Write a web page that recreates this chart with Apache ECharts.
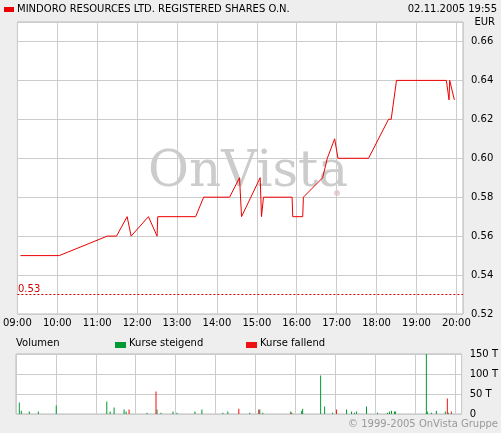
<!DOCTYPE html>
<html>
<head>
<meta charset="utf-8">
<script src="https://cdn.jsdelivr.net/npm/echarts@6/dist/echarts.min.js"></script>
<style>html,body{margin:0;padding:0;background:#eeeeee}#chart{width:501px;height:433px}</style>
</head>
<body>
<div id="chart"></div>
<script>
// minutes after 09:00
var priceTimes = [4.5, 63, 135, 149, 165, 171, 197, 210, 211, 268, 280, 319, 334, 337, 351, 365, 367, 370, 413, 414, 429, 430, 459, 466, 477, 482, 528, 558, 562, 570, 645, 649, 650, 657];
var priceValues = [0.55, 0.55, 0.56, 0.56, 0.57, 0.56, 0.57, 0.56, 0.57, 0.57, 0.58, 0.58, 0.59, 0.57, 0.58, 0.59, 0.57, 0.58, 0.58, 0.57, 0.57, 0.58, 0.59, 0.60, 0.61, 0.60, 0.60, 0.62, 0.62, 0.64, 0.64, 0.63, 0.64, 0.63];
var upTimes = [5, 8, 20, 33.5, 60.5, 136.5, 141.5, 147.5, 162.5, 165.5, 197, 212, 218, 236, 242, 269, 279.5, 311, 318.5, 351.5, 366.5, 371, 413, 429.5, 431, 458, 464, 476, 497, 504.5, 509, 512, 527, 543.5, 558.5, 561.5, 564.5, 569, 570.5, 617, 618.5, 624.5, 632, 645.5, 650];
var upVolumes = [29, 8, 6, 6, 21, 31, 6, 16, 11, 6, 3, 11, 3, 6, 3, 6, 11, 3, 6, 3, 11, 3, 6, 8, 13, 96, 19, 3, 11, 6, 3, 6, 19, 3, 3, 6, 8, 6, 6, 150, 6, 3, 8, 6, 3];
var downTimes = [170, 210.5, 335, 365, 414.5, 482, 648.5, 654.5];
var downVolumes = [11, 56, 13, 11, 3, 11, 39, 6];
var prevClose = 0.53;
var title = "MINDORO RESOURCES LTD. REGISTERED SHARES O.N.";

function zip(a, b) { return a.map(function (v, i) { return [v, b[i]]; }); }
function timeLabel(v) { var h = 9 + Math.round(v / 60); return (h < 10 ? "0" : "") + h + ":00"; }

var font = "DejaVu Sans";
var chart = echarts.init(document.getElementById("chart"));
chart.setOption({
    backgroundColor: "#eeeeee",
    animation: false,
    textStyle: { fontFamily: font },
    grid: [
        { left: 16, right: 38, top: 22, height: 292, backgroundColor: "#fff", show: true, borderColor: "#bbb", borderWidth: 1 },
        { left: 16, right: 38, top: 354, height: 60, backgroundColor: "#fff", show: true, borderColor: "#bbb", borderWidth: 1 }
    ],
    xAxis: [
        { type: "value", gridIndex: 0, min: 0, max: 670, interval: 60,
          axisLine: { show: false }, axisTick: { show: false },
          axisLabel: { formatter: timeLabel, color: "#000", fontSize: 10, margin: 4, showMaxLabel: false },
          splitLine: { lineStyle: { color: "#ccc" } } },
        { type: "value", gridIndex: 1, min: 0, max: 670, interval: 60,
          axisLine: { show: false }, axisTick: { show: false }, axisLabel: { show: false },
          splitLine: { lineStyle: { color: "#ccc" } } }
    ],
    yAxis: [
        { type: "value", gridIndex: 0, position: "right", min: 0.52, max: 0.67, interval: 0.02,
          axisLine: { show: false }, axisTick: { show: false },
          axisLabel: { formatter: function (v) { return v.toFixed(2); }, color: "#000", fontSize: 10, margin: 8, showMaxLabel: false },
          splitLine: { lineStyle: { color: "#ccc" } } },
        { type: "value", gridIndex: 1, position: "right", min: 0, max: 150, interval: 50,
          axisLine: { show: false }, axisTick: { show: false },
          axisLabel: { formatter: function (v) { return v ? v + " T" : "0"; }, color: "#000", fontSize: 10, margin: 8 },
          splitLine: { lineStyle: { color: "#ccc" } } }
    ],
    series: [
        { type: "line", xAxisIndex: 0, yAxisIndex: 0, data: zip(priceTimes, priceValues), symbol: "none",
          lineStyle: { color: "#e00", width: 1 },
          markLine: { silent: true, symbol: "none",
            lineStyle: { color: "#c00", type: [2, 2], width: 1 },
            label: { show: false },
            data: [{ yAxis: prevClose }] } },
        { type: "bar", xAxisIndex: 1, yAxisIndex: 1, data: zip(upTimes, upVolumes), barWidth: 1, itemStyle: { color: "#009933" } },
        { type: "bar", xAxisIndex: 1, yAxisIndex: 1, data: zip(downTimes, downVolumes), barWidth: 1, barGap: "-100%", itemStyle: { color: "#ee1111" } }
    ],
    graphic: [
        { type: "text", left: 148, top: 148, z: 0, style: { text: "OnVista", font: "50px 'DejaVu Serif'", fill: "#cccccc" } },
        { type: "circle", shape: { cx: 337, cy: 193, r: 3 }, style: { fill: "#ebcfcf" } },
        { type: "rect", shape: { x: 4, y: 7, width: 10, height: 5 }, style: { fill: "#e00" } },
        { type: "text", left: 17, top: 4, style: { text: title, font: "10px " + font, fill: "#000" } },
        { type: "text", right: 4, top: 4, style: { text: "02.11.2005 19:55", font: "10px " + font, fill: "#000", align: "right" } },
        { type: "text", right: 6, top: 17, style: { text: "EUR", font: "10px " + font, fill: "#000", align: "right" } },
        { type: "text", left: 18, top: 284, style: { text: "0.53", font: "10px " + font, fill: "#c00" } },
        { type: "text", left: 16, top: 338, style: { text: "Volumen", font: "10px " + font, fill: "#000" } },
        { type: "rect", shape: { x: 115, y: 342, width: 11, height: 6 }, style: { fill: "#009933" } },
        { type: "text", left: 129, top: 338, style: { text: "Kurse steigend", font: "10px " + font, fill: "#000" } },
        { type: "rect", shape: { x: 246, y: 342, width: 11, height: 6 }, style: { fill: "#ee1111" } },
        { type: "text", left: 260, top: 338, style: { text: "Kurse fallend", font: "10px " + font, fill: "#000" } },
        { type: "text", right: 3, top: 419, style: { text: "\u00a9 1999-2005 OnVista Gruppe", font: "10px " + font, fill: "#999" } }
    ]
});
</script>
</body>
</html>
